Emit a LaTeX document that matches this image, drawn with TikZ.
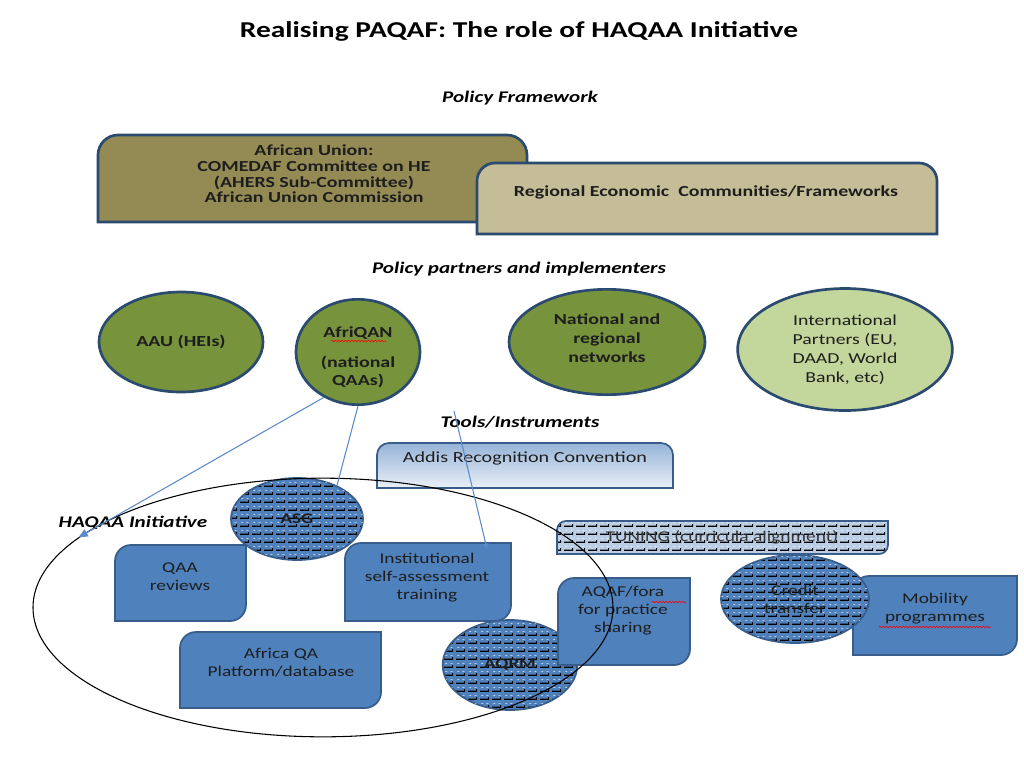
\documentclass[tikz,border=0pt]{standalone}
\usepackage{fontspec}
\setmainfont{Carlito}[FakeStretch=1.3]
\usetikzlibrary{shapes.geometric,patterns,arrows.meta,decorations.pathmorphing}
\definecolor{bord}{HTML}{2B4A6F}
\definecolor{auolive}{HTML}{948A54}
\definecolor{regtan}{HTML}{C4BD97}
\definecolor{ogreen}{HTML}{77933C}
\definecolor{lgreen}{HTML}{C3D69B}
\definecolor{boxblue}{HTML}{4F81BD}
\definecolor{boxbord}{HTML}{385D8A}
\definecolor{ltblue}{HTML}{B9CDE5}
\definecolor{lineblue}{HTML}{5B8BC9}
\definecolor{txt}{HTML}{1E1E1E}
\pgfdeclarepatternformonly{blackbrick}{\pgfpointorigin}{\pgfqpoint{9pt}{5.6pt}}{\pgfqpoint{9pt}{5.6pt}}{%
  \pgfsetlinewidth{0.9pt}%
  \pgfpathmoveto{\pgfqpoint{0pt}{0.6pt}}\pgfpathlineto{\pgfqpoint{7pt}{0.6pt}}%
  \pgfpathmoveto{\pgfqpoint{7pt}{0.1pt}}\pgfpathlineto{\pgfqpoint{7pt}{2.3pt}}%
  \pgfusepath{stroke}}
\pgfdeclarepatternformonly{whitedash}{\pgfpointorigin}{\pgfqpoint{9pt}{5.6pt}}{\pgfqpoint{9pt}{5.6pt}}{%
  \pgfsetlinewidth{0.4pt}%
  \pgfpathmoveto{\pgfqpoint{1.2pt}{3.4pt}}\pgfpathlineto{\pgfqpoint{2.6pt}{3.4pt}}%
  \pgfpathmoveto{\pgfqpoint{5.4pt}{3.4pt}}\pgfpathlineto{\pgfqpoint{6.8pt}{3.4pt}}%
  \pgfusepath{stroke}}
\newcommand\diagbox[6]{% x1 y1 x2 y2 r style : rounded top-left and bottom-right
  \draw[#6] (#1,#2+#5) .. controls (#1,#2+0.448*#5) and (#1+0.448*#5,#2) .. (#1+#5,#2) -- (#3,#2) -- (#3,#4-#5)
    .. controls (#3,#4-0.448*#5) and (#3-0.448*#5,#4) .. (#3-#5,#4) -- (#1,#4) -- cycle;}
\newcommand\topbox[6]{% rounded top corners
  \draw[#6] (#1,#4) -- (#1,#2+#5) .. controls (#1,#2+0.448*#5) and (#1+0.448*#5,#2) .. (#1+#5,#2) -- (#3-#5,#2)
    .. controls (#3-0.448*#5,#2) and (#3,#2+0.448*#5) .. (#3,#2+#5) -- (#3,#4) -- cycle;}
\tikzset{
  titletxt/.style={font=\bfseries\fontsize{17}{20}\selectfont, text=black},
  headtxt/.style={font=\bfseries\itshape\fontsize{12.2}{14}\selectfont, text=black},
  btxt/.style={font=\bfseries\fontsize{11.5}{11.8}\selectfont, text=txt, align=center},
  ntxt/.style={font=\fontsize{11.2}{13.5}\selectfont, text=txt, align=center},
  thickbord/.style={draw=bord, line width=2pt},
  greenell/.style={ellipse, draw=bord, line width=2pt, fill=ogreen, inner sep=0pt},
  bluebox/.style={fill=boxblue, draw=boxbord, line width=1.3pt},
  hatchfill/.style={preaction={fill=#1}, pattern=blackbrick, pattern color=black,
     postaction={pattern=whitedash, pattern color=white}},
  hatchell/.style={ellipse, draw=boxbord, line width=1.3pt, hatchfill=boxblue, inner sep=0pt},
  conn/.style={draw=lineblue, line width=0.8pt},
  squig/.style={draw=red, line width=0.5pt, decorate, decoration={snake, amplitude=0.5pt, segment length=2.5pt}},
}
\begin{document}
\begin{tikzpicture}[x=0.75pt,y=-0.75pt]
\useasboundingbox[fill=white] (0,0) rectangle (1024,768);
% titles
\node[titletxt] (title) at (519,31) {Realising PAQAF: The role of HAQAA Initiative};
\node[headtxt] (pf) at (520,98) {Policy Framework};
% policy framework boxes
\topbox{98}{135}{527}{222}{20}{thickbord, fill=auolive}
\node[btxt] (au) at (314,174) {African Union:\\COMEDAF Committee on HE\\(AHERS Sub-Committee)\\African Union Commission};
\topbox{477}{163}{937}{234}{18}{thickbord, fill=regtan}
\node[btxt] (rec) at (706,192) {Regional Economic\ \ Communities/Frameworks};
\node[headtxt] (pp) at (519,269) {Policy partners and implementers};
% partner ellipses
\node[greenell, minimum width=123pt, minimum height=75pt, btxt, font=\bfseries\fontsize{11.5}{13.5}\selectfont] (aau) at (181,342) {AAU (HEIs)};
\node[greenell, minimum width=93pt, minimum height=79pt] (afriqan) at (358,352) {};
\node[btxt, font=\bfseries\fontsize{11.5}{13.5}\selectfont] (afriqantxt) at (358,357) {AfriQAN\\[9pt](national\\QAAs)};
\node[greenell, minimum width=147pt, minimum height=79pt, btxt, font=\bfseries\fontsize{11.5}{14}\selectfont] (natreg) at (607,342) {};
\node[btxt, font=\bfseries\fontsize{11.5}{14}\selectfont] (natregtxt) at (607,338) {National and\\regional\\networks};
\node[ellipse, draw=bord, line width=2pt, fill=lgreen, inner sep=0pt, minimum width=161pt, minimum height=91.5pt, ntxt, font=\fontsize{11.4}{14.2}\selectfont] (intl) at (845,349.5) {International\\Partners (EU,\\DAAD, World\\Bank, etc)};
\draw[squig] (331,341) -- (386,341);
\node[headtxt] (tools) at (520,422) {Tools/Instruments};
% Addis
\topbox{377}{443}{673}{488}{12}{draw=boxbord, line width=1.3pt, top color=boxblue!60, bottom color=boxblue!12}
\node[ntxt, font=\fontsize{11.6}{13.5}\selectfont] (addis) at (525,458) {Addis Recognition Convention};
% TUNING
\diagbox{557}{521}{888}{554}{9}{draw=boxbord, line width=1.3pt, hatchfill=ltblue}
\node[ntxt, text=txt!90] (tuning) at (722,537) {TUNING (curricula alignment)};
% blue boxes
\diagbox{115}{545}{246}{621}{16}{bluebox}
\node[ntxt] (qaa) at (180,577) {QAA\\reviews};
\diagbox{345}{543}{511}{621}{16}{bluebox}
\node[ntxt] (inst) at (427,578) {Institutional\\self-assessment\\training};
\diagbox{180}{632}{381}{708}{16}{bluebox}
\node[ntxt] (afqa) at (281,663) {Africa QA\\Platform/database};
\node[hatchell, minimum width=101pt, minimum height=67.5pt, ntxt, font=\bfseries\fontsize{11}{13}\selectfont] (aqrm) at (510,665) {AQRM};
\diagbox{558}{578}{690}{665}{16}{bluebox}
\node[ntxt] (aqaf) at (623,611) {AQAF/fora\\for practice\\sharing};
\draw[squig] (652,602) -- (686,602);
\diagbox{853}{576}{1017}{655}{16}{bluebox}
\node[ntxt] (mob) at (935,609) {Mobility\\programmes};
\draw[squig] (879,627) -- (991,627);
\node[hatchell, minimum width=111pt, minimum height=66pt, ntxt] (credit) at (795,599) {Credit\\transfer};
\node[hatchell, minimum width=99pt, minimum height=61.5pt, ntxt, font=\bfseries\fontsize{11}{13}\selectfont] (asg) at (297,519) {ASG};
% HAQAA initiative
\node[ellipse, draw=black, line width=0.8pt, minimum width=435pt, minimum height=194pt, inner sep=0pt] (haqaa) at (323,607.5) {};
\node[headtxt] (haqaalbl) at (133,523) {HAQAA Initiative};
% connectors
\coordinate (l3s) at (454,411);
\coordinate (instTop) at (487,549);
\draw[conn, -{Triangle[length=7pt,width=6pt]}] (afriqan.233) -- (haqaa.164);
\draw[conn] (afriqan.south) -- (asg.40);
\draw[conn, -{Triangle[length=4pt,width=4pt]}] (l3s) -- (instTop);
\end{tikzpicture}
\end{document}
